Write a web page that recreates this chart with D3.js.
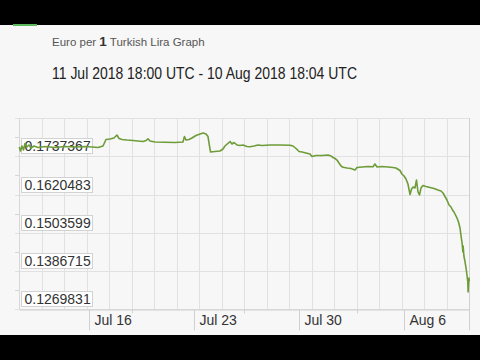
<!DOCTYPE html>
<html><head><meta charset="utf-8">
<script src="https://cdn.jsdelivr.net/npm/d3@7"></script>
<style>
html,body{margin:0;padding:0;background:#000;}
svg{display:block;font-family:"Liberation Sans",Arial,Helvetica,sans-serif;}
</style></head><body>
<svg id="c" width="480" height="360"></svg>
<script>
// ---- data ----
const startTime = "2018-07-11T18:00:00Z";
const endTime = "2018-08-10T18:04:00Z";
const dayOffsets = [0,0.08,0.18,0.28,0.38,0.51,0.65,0.78,0.98,1.25,1.71,2.38,3.05,3.71,4.38,4.85,5.25,5.58,5.78,6.05,6.31,6.51,6.65,6.85,7.18,7.58,7.91,8.25,8.45,8.58,8.71,9.05,9.71,10.38,10.91,11.01,11.11,11.31,11.51,11.78,12.05,12.25,12.45,12.58,12.68,12.75,13.05,13.38,13.58,13.71,13.91,14.05,14.18,14.31,14.51,14.71,14.91,15.18,15.38,15.65,15.91,16.18,16.71,17.38,18.05,18.25,18.45,18.65,18.85,19.11,19.38,19.51,19.78,20.18,20.58,20.78,20.91,21.05,21.18,21.31,21.45,21.58,21.85,22.11,22.38,22.51,22.85,23.25,23.58,23.71,23.85,24.18,24.58,24.91,25.11,25.38,25.51,25.65,25.78,25.91,26.05,26.15,26.25,26.38,26.48,26.58,26.68,26.78,26.91,27.11,27.38,27.65,27.91,28.11,28.25,28.38,28.51,28.65,28.78,28.88,28.98,29.08,29.18,29.28,29.38,29.45,29.51,29.55,29.57,29.59,29.64,29.72,29.80,29.85,29.90,29.92,29.95,29.98,30.0];
const rates = [0.17657,0.17534,0.17687,0.17565,0.17764,0.17657,0.17718,0.17626,0.17687,0.17641,0.17672,0.17641,0.17672,0.17657,0.17672,0.17657,0.17641,0.17687,0.17886,0.17901,0.17932,0.18023,0.17916,0.17886,0.17870,0.17855,0.17840,0.17825,0.17855,0.17907,0.17840,0.17809,0.17800,0.17794,0.17809,0.17977,0.17870,0.17886,0.17932,0.18008,0.18054,0.18084,0.18054,0.17977,0.17687,0.17504,0.17519,0.17534,0.17596,0.17687,0.17764,0.17825,0.17748,0.17794,0.17718,0.17702,0.17718,0.17672,0.17663,0.17687,0.17718,0.17702,0.17718,0.17718,0.17712,0.17687,0.17611,0.17519,0.17504,0.17473,0.17443,0.17366,0.17397,0.17397,0.17412,0.17382,0.17336,0.17305,0.17259,0.17168,0.17076,0.17036,0.17015,0.17000,0.16954,0.17030,0.17046,0.17061,0.17055,0.17137,0.17046,0.17061,0.17046,0.17030,0.17015,0.16939,0.16832,0.16771,0.16679,0.16526,0.16205,0.16374,0.16435,0.16404,0.16648,0.16282,0.16190,0.16404,0.16480,0.16450,0.16419,0.16389,0.16343,0.16312,0.16251,0.16144,0.16037,0.15885,0.15824,0.15732,0.15671,0.15579,0.15488,0.15365,0.15182,0.14938,0.14754,0.14571,0.14449,0.14632,0.14327,0.14143,0.13899,0.13716,0.13532,0.13227,0.13471,0.13655,0.13563];
const yTicks = [0.1269831,0.1386715,0.1503599,0.1620483,0.1737367];
const yTickLabels = ["0.1269831","0.1386715","0.1503599","0.1620483","0.1737367"];
const yTop = 0.1854251;
const xTickDates = ["2018-07-16T10:00:00Z","2018-07-23T10:00:00Z","2018-07-30T10:00:00Z","2018-08-06T10:00:00Z"];
const xTickLabels = ["Jul 16","Jul 23","Jul 30","Aug 6"];
const titleParts = ["Euro per ","1"," Turkish Lira Graph"];
const subtitle = "11 Jul 2018 18:00 UTC - 10 Aug 2018 18:04 UTC";

// ---- drawing ----
const svg = d3.select("#c");
const DAY = 864e5;
const t0 = new Date(startTime), t1 = new Date(endTime);
const L = 19.3, R = 469.3, T = 118, B = 309.3;
const x = d3.scaleUtc().domain([t0, new Date(+t0 + 30*DAY)]).range([L, R]);
const y = d3.scaleLinear().domain([yTicks[0], yTop]).range([B, T]);
const px = v => Math.round(v) + 0.5;

svg.append("rect").attr("width",480).attr("height",360).attr("fill","#000");
svg.append("rect").attr("x",0).attr("y",25).attr("width",480).attr("height",310).attr("fill","#f7f7f7");
svg.append("rect").attr("x",13).attr("y",24).attr("width",24).attr("height",2).attr("fill","#5cb85c");

const title = svg.append("text").attr("x",52).attr("y",46).attr("fill","#555").attr("font-size",11.5);
title.append("tspan").text(titleParts[0]);
title.append("tspan").attr("font-weight","bold").attr("font-size",13.5).attr("fill","#333").text(titleParts[1]);
title.append("tspan").text(titleParts[2]);

svg.append("text").attr("x",52).attr("y",79).attr("fill","#222").attr("font-size",16.5)
  .attr("textLength",305).attr("lengthAdjust","spacingAndGlyphs").text(subtitle);

// vertical grid lines (20 equal divisions of the time span)
const vGrid = d3.range(21).map(i => new Date(+t0 + i*1.5*DAY));
svg.append("g").selectAll("line").data(vGrid).join("line")
  .attr("x1", d => px(x(d))).attr("x2", d => px(x(d)))
  .attr("y1", T).attr("y2", B)
  .attr("stroke","#e1e1e1").attr("stroke-width",1);

// horizontal grid lines
const hGrid = yTicks.concat([yTop]);
svg.append("g").selectAll("line").data(hGrid).join("line")
  .attr("x1", 15).attr("x2", R)
  .attr("y1", d => px(y(d))).attr("y2", d => px(y(d)))
  .attr("stroke","#e1e1e1");

// minor y ticks
const yMid = d3.range(yTicks.length).map(i => (hGrid[i] + hGrid[i+1]) / 2);
svg.append("g").selectAll("line").data(yMid).join("line")
  .attr("x1", 15).attr("x2", L)
  .attr("y1", d => px(y(d))).attr("y2", d => px(y(d)))
  .attr("stroke","#d5d5d5");

// left border
svg.append("line").attr("x1",px(L)).attr("x2",px(L)).attr("y1",T).attr("y2",B).attr("stroke","#d8d8d8");

// bottom axis
const xAxis = d3.axisBottom(x)
  .tickValues(xTickDates.map(d => new Date(d)))
  .tickFormat((d,i) => xTickLabels[i])
  .tickSize(21).tickSizeOuter(0);
const gx = svg.append("g").attr("transform", `translate(0,${px(B)})`).call(xAxis);
gx.select(".domain").attr("stroke","#cfcfcf");
gx.selectAll(".tick line").attr("stroke","#d0d0d0");
gx.selectAll(".tick").attr("transform", d => `translate(${px(x(d))},0)`);
gx.selectAll(".tick text").attr("text-anchor","start").attr("x",5).attr("y",15).attr("dy",0)
  .attr("font-size",14).attr("fill","#333").attr("font-family","Liberation Sans, Arial, sans-serif");
// minor bottom ticks
svg.append("g").selectAll("line").data(vGrid.filter((d,i) => i % 5 === 0 && i > 0 && i < 20)).join("line")
  .attr("x1", d => px(x(d))).attr("x2", d => px(x(d)))
  .attr("y1", B).attr("y2", B + 4).attr("stroke","#d0d0d0");
// right end tick
svg.append("line").attr("x1",px(R)).attr("x2",px(R)).attr("y1",T).attr("y2",B+21).attr("stroke","#d0d0d0");

// y labels (boxed)
const lab = svg.append("g").selectAll("g").data(yTicks).join("g")
  .attr("transform", d => `translate(21,${Math.round(y(d)) - 18})`);
lab.append("rect").attr("x",0.5).attr("y",0.5).attr("width",71).attr("height",15)
  .attr("fill","#fff").attr("stroke","#d2d2d2");
lab.append("text").attr("x",3.5).attr("y",13).attr("font-size",14).attr("fill","#333")
  .text((d,i) => yTickLabels[i]);

// line
const data = dayOffsets.map((d,i) => ({t: new Date(+t0 + d*DAY), v: rates[i]}));
svg.append("path").datum(data)
  .attr("fill","none").attr("stroke","#6e9c38").attr("stroke-width",1.6).attr("stroke-linejoin","round")
  .attr("d", d3.line().x(d => x(d.t)).y(d => y(d.v)));
</script>
</body></html>
